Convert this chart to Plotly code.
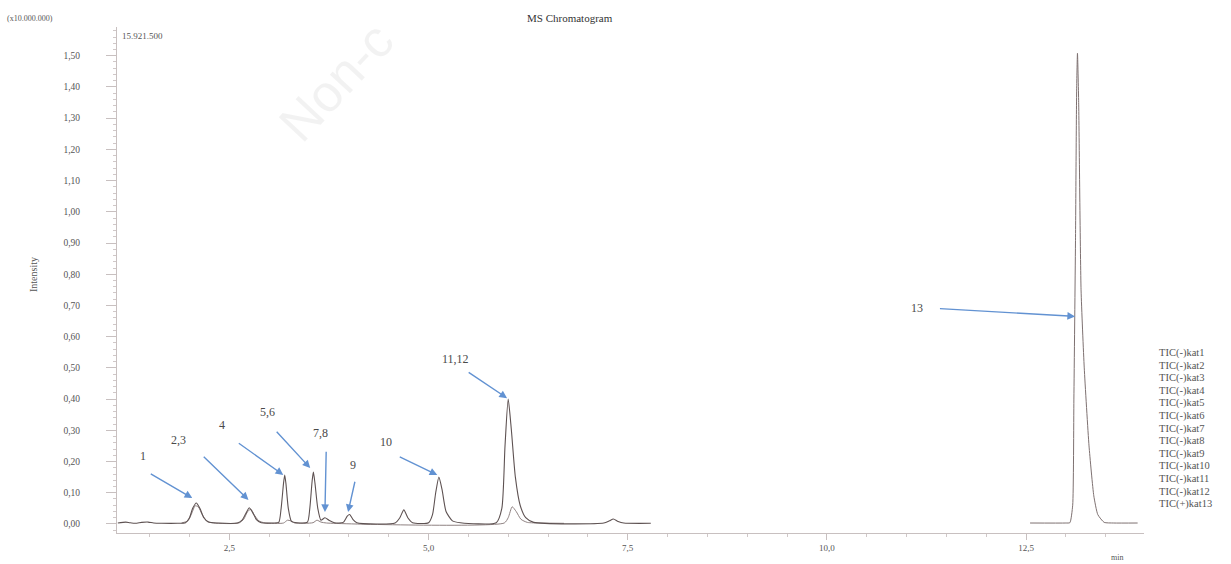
import plotly.graph_objects as go

# ---- chromatogram traces (time in min, intensity in x10,000,000) ----
time_a = [1.10, 1.20, 1.25, 1.32, 1.40, 1.48, 1.55, 1.65, 1.85,
          1.95, 2.00, 2.04, 2.085, 2.13, 2.18, 2.24, 2.35,
          2.60, 2.66, 2.71, 2.75, 2.79, 2.84, 2.90, 3.05,
          3.12, 3.15, 3.18, 3.195, 3.21, 3.24, 3.28, 3.35,
          3.48, 3.51, 3.54, 3.555, 3.575, 3.61, 3.65,
          3.70, 3.75, 3.82,
          3.93, 3.98, 4.01, 4.05, 4.10,
          4.58, 4.64, 4.69, 4.74, 4.80,
          5.00, 5.05, 5.09, 5.13, 5.17, 5.22, 5.30, 5.40,
          5.85, 5.92, 5.96, 6.00, 6.04, 6.09, 6.15, 6.22, 6.32,
          7.20, 7.27, 7.32, 7.38, 7.45, 7.79]
inten_a = [0.003, 0.006, 0.004, 0.002, 0.005, 0.006, 0.003, 0.002, 0.002,
           0.004, 0.020, 0.050, 0.067, 0.050, 0.020, 0.006, 0.003,
           0.003, 0.012, 0.035, 0.052, 0.038, 0.014, 0.004, 0.003,
           0.005, 0.050, 0.130, 0.157, 0.130, 0.050, 0.008, 0.004,
           0.006, 0.050, 0.140, 0.166, 0.130, 0.050, 0.012,
           0.020, 0.012, 0.004,
           0.005, 0.025, 0.030, 0.015, 0.004,
           0.003, 0.020, 0.045, 0.020, 0.004,
           0.004, 0.030, 0.100, 0.150, 0.110, 0.040, 0.010, 0.004,
           0.004, 0.050, 0.250, 0.400, 0.300, 0.150, 0.060, 0.020, 0.005,
           0.003, 0.010, 0.016, 0.008, 0.003, 0.002]

time_b = [1.90, 1.98, 2.03, 2.07, 2.11, 2.16, 2.22, 2.30,
          2.62, 2.68, 2.73, 2.77, 2.81, 2.87, 2.95,
          3.18, 3.23, 3.27, 3.32, 3.55, 3.60, 3.65, 3.72,
          5.95, 6.00, 6.05, 6.10, 6.16, 6.24, 6.40, 6.70]
inten_b = [0.003, 0.010, 0.035, 0.058, 0.055, 0.030, 0.008, 0.003,
           0.003, 0.015, 0.040, 0.047, 0.030, 0.010, 0.003,
           0.003, 0.012, 0.010, 0.003, 0.004, 0.012, 0.006, 0.003,
           0.003, 0.020, 0.055, 0.040, 0.015, 0.005, 0.003, 0.002]

time_c = [12.55, 13.00, 13.05, 13.085, 13.10, 13.12, 13.135, 13.145, 13.16,
          13.19, 13.23, 13.29, 13.35, 13.40, 13.48, 13.60, 13.90]
inten_c = [0.003, 0.003, 0.004, 0.060, 0.400, 0.900, 1.400, 1.508, 1.350,
           0.750, 0.500, 0.250, 0.090, 0.030, 0.005, 0.003, 0.003]

# ---- peak annotations ----
peak_labels = ["1", "2,3", "4", "5,6", "7,8", "9", "10", "11,12", "13"]
label_t = [1.41, 1.86, 2.41, 2.98, 3.64, 4.055, 4.46, 5.335, 11.13]
label_i = [0.217, 0.268, 0.316, 0.358, 0.290, 0.190, 0.262, 0.530, 0.693]
tail_t = [1.495, 2.16, 2.60, 3.077, 3.716, 4.08, 4.62, 5.485, 11.40]
tail_i = [0.163, 0.220, 0.262, 0.300, 0.236, 0.140, 0.217, 0.489, 0.690]
head_t = [2.035, 2.74, 3.177, 3.515, 3.70, 3.99, 5.11, 5.986, 13.115]
head_i = [0.083, 0.077, 0.157, 0.179, 0.038, 0.038, 0.157, 0.403, 0.665]

legend_labels = ["TIC(-)kat1", "TIC(-)kat2", "TIC(-)kat3", "TIC(-)kat4", "TIC(-)kat5",
                 "TIC(-)kat6", "TIC(-)kat7", "TIC(-)kat8", "TIC(-)kat9", "TIC(-)kat10",
                 "TIC(-)kat11", "TIC(-)kat12", "TIC(+)kat13"]

y_ticks = [0.0, 0.1, 0.2, 0.3, 0.4, 0.5, 0.6, 0.7, 0.8, 0.9, 1.0, 1.1, 1.2, 1.3, 1.4, 1.5]
x_ticks = [2.5, 5.0, 7.5, 10.0, 12.5]

SERIF = "Liberation Serif"
W, H = 1231, 564
L, R, T, B = 117, 87, 27, 31
PW, PH = W - L - R, H - T - B


def px(xp):
    return (xp - L) / PW


def py(yp):
    return (H - B - yp) / PH


fig = go.Figure()
fig.add_trace(go.Scatter(x=time_b, y=inten_b, mode="lines",
                         line=dict(color="#8f8282", width=1, shape="spline", smoothing=0.6),
                         showlegend=False))
fig.add_trace(go.Scatter(x=time_a, y=inten_a, mode="lines",
                         line=dict(color="#5e5252", width=1.1, shape="spline", smoothing=0.6),
                         showlegend=False))
fig.add_trace(go.Scatter(x=time_c, y=inten_c, mode="lines",
                         line=dict(color="#7e7171", width=1, shape="spline", smoothing=0.5),
                         showlegend=False))

ann = []
# faint watermark (only its first letters are visible in the reference)
ann.append(dict(x=px(336), y=py(82), xref="paper", yref="paper",
                xanchor="center", yanchor="middle",
                text="Non-c", textangle=-47, showarrow=False,
                font=dict(family="Liberation Sans", size=52, color="rgba(0,0,0,0.05)")))

for lab, lt, li, tt, ti, ht, hi in zip(peak_labels, label_t, label_i, tail_t, tail_i, head_t, head_i):
    ann.append(dict(x=ht, y=hi, ax=tt, ay=ti, xref="x", yref="y", axref="x", ayref="y",
                    text="", showarrow=True, arrowhead=2, arrowsize=1.1, arrowwidth=1.4,
                    arrowcolor="#6292d2", standoff=0))
    ann.append(dict(x=lt, y=li, xref="x", yref="y", text=lab, showarrow=False,
                    xanchor="center", yanchor="middle",
                    font=dict(family=SERIF, size=12, color="#4a4a4a")))

for i, lab in enumerate(legend_labels):
    ann.append(dict(x=px(1157), y=py(353 + i * 12.6), xref="paper", yref="paper",
                    xanchor="left", yanchor="middle", text=lab, showarrow=False,
                    font=dict(family=SERIF, size=10.5, color="#555")))

ann.append(dict(x=px(570), y=py(18), xref="paper", yref="paper",
                xanchor="center", yanchor="middle",
                text="MS Chromatogram", showarrow=False,
                font=dict(family=SERIF, size=11, color="#333")))
ann.append(dict(x=px(5), y=py(18), xref="paper", yref="paper",
                xanchor="left", yanchor="middle", text="(x10.000.000)", showarrow=False,
                font=dict(family=SERIF, size=8, color="#555")))
ann.append(dict(x=px(120), y=py(36), xref="paper", yref="paper",
                xanchor="left", yanchor="middle", text="15.921.500", showarrow=False,
                font=dict(family=SERIF, size=9, color="#555")))
ann.append(dict(x=px(1117), y=py(557), xref="paper", yref="paper",
                xanchor="center", yanchor="middle", text="min", showarrow=False,
                font=dict(family=SERIF, size=8, color="#555")))
ann.append(dict(x=px(33), y=py(275), xref="paper", yref="paper",
                xanchor="center", yanchor="middle",
                text="Intensity", textangle=-90, showarrow=False,
                font=dict(family=SERIF, size=10, color="#555")))

fig.update_layout(
    width=W, height=H,
    margin=dict(l=L, r=R, t=T, b=B, pad=0),
    paper_bgcolor="white", plot_bgcolor="white",
    separators=",.",
    showlegend=False,
    annotations=ann,
    xaxis=dict(range=[1.09, 13.98], tickvals=x_ticks, tickformat=".1f", automargin=False,
               showgrid=False, zeroline=False, showline=True, linecolor="#c8c0c0",
               ticks="outside", ticklen=6, tickcolor="#c8c0c0",
               minor=dict(dtick=0.5, tick0=0, ticks="outside", ticklen=3, tickcolor="#d0c8c8"),
               tickfont=dict(family=SERIF, size=9, color="#555")),
    yaxis=dict(range=[-0.029, 1.5921], tickvals=y_ticks, tickformat=".2f", automargin=False,
               showgrid=False, zeroline=False, showline=True, linecolor="#c8c0c0",
               ticks="outside", ticklen=10, tickcolor="#c8c0c0", ticklabelstandoff=24,
               minor=dict(dtick=0.02, tick0=0, ticks="outside", ticklen=3, tickcolor="#d0c8c8"),
               tickfont=dict(family=SERIF, size=9.5, color="#555")),
)

fig.write_html("out.html")
